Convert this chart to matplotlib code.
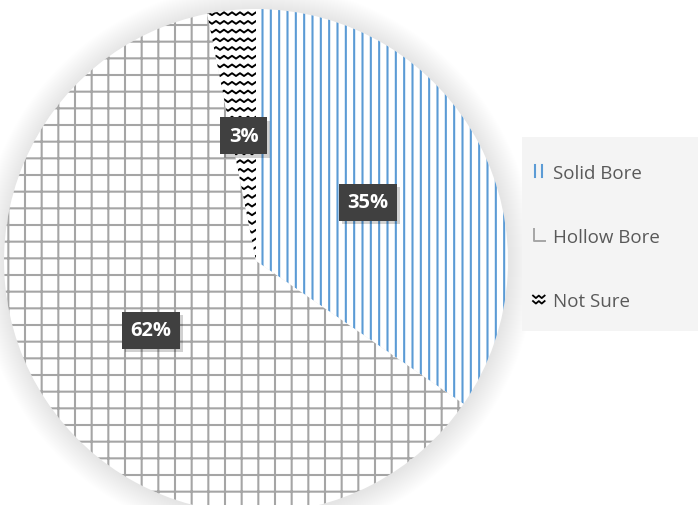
import matplotlib
matplotlib.use('Agg')
import matplotlib.pyplot as plt
import matplotlib.patheffects as pe
import numpy as np
from matplotlib.patches import Circle, Patch, Rectangle
from matplotlib.collections import LineCollection
from matplotlib.legend_handler import HandlerBase
from matplotlib.lines import Line2D

# ---- data ----
categories = ['Solid Bore', 'Hollow Bore', 'Not Sure']
values = [34.6, 62.3, 3.1]
colors_edge = ['#5B9BD5', '#A5A5A5', '#000000']
hatches = ['||', '+', None]

plt.rcParams['hatch.linewidth'] = 1.5

W, H = 698, 506
fig = plt.figure(figsize=(W / 100, H / 100), dpi=100)
ax = fig.add_axes([0, 0, 1, 1])

cx, cy, R = 256, 244, 252

# soft shadow around the pie
for k in range(26, 0, -1):
    ax.add_patch(Circle((cx + 1, cy - 1), R + k, color='black', alpha=0.0055,
                        lw=0, zorder=0))

wedges, texts, autotexts = ax.pie(
    values, startangle=90, counterclock=False, center=(cx, cy), radius=R,
    autopct='%.0f%%', pctdistance=0.5, wedgeprops=dict(linewidth=0),
    textprops=dict(color='white', fontsize=14.5, fontweight='bold',
                   family='Open Sans'))

for w, ec, h in zip(wedges, colors_edge, hatches):
    w.set_facecolor('white')
    w.set_edgecolor(ec)
    w.set_linewidth(0)
    if h:
        w.set_hatch(h)
    w.set_zorder(1)

# zigzag pattern for "Not Sure"
segs = []
step_y = 8.7
period = 8.0
amp = 1.4
for yy in np.arange(cy - 5, cy + R + 20, step_y):
    xs = np.arange(cx - 80, cx + 20, period / 2)
    ys = yy + np.where((np.arange(len(xs)) % 2) == 0, amp, -amp)
    segs.append(np.column_stack([xs, ys]))
lc = LineCollection(segs, colors='black', linewidths=1.4, zorder=2)
ax.add_collection(lc)
lc.set_clip_path(wedges[2])

# label boxes with shadow
for t in autotexts:
    t.set_zorder(5)
    t.set_bbox(dict(boxstyle='square,pad=0.42', fc='#404040', ec='none'))
    t.get_bbox_patch().set_path_effects(
        [pe.SimplePatchShadow(offset=(2.5, -2.5), shadow_rgbFace='black', alpha=0.18),
         pe.Normal()])

ax.set_xlim(0, W)
ax.set_ylim(0, H)
ax.set_aspect('equal')
ax.axis('off')

# legend background panel
ax.add_patch(Rectangle((522, H - 332), W - 522, 332 - 138, fc='#F4F4F4',
                       ec='none', zorder=0))


class ZigzagHandler(HandlerBase):
    def create_artists(self, legend, orig_handle, xdescent, ydescent, width,
                       height, fontsize, trans):
        arts = []
        for fy in (0.25, 0.7):
            xs = np.linspace(0, width, 5) - xdescent
            ys = (fy * height + np.array([1, -1, 1, -1, 1]) * 0.9) - ydescent
            ln = Line2D(xs, ys, color='black', lw=1.3)
            ln.set_transform(trans)
            arts.append(ln)
        return arts


class LHandler(HandlerBase):
    def create_artists(self, legend, orig_handle, xdescent, ydescent, width,
                       height, fontsize, trans):
        ln = Line2D([0.05 * width - xdescent, 0.05 * width - xdescent, width - xdescent],
                    [height - ydescent, -ydescent, -ydescent],
                    color='#A5A5A5', lw=1.4)
        ln.set_transform(trans)
        return [ln]


class BarsHandler(HandlerBase):
    def create_artists(self, legend, orig_handle, xdescent, ydescent, width,
                       height, fontsize, trans):
        arts = []
        for fx in (0.15, 0.75):
            ln = Line2D([fx * width - xdescent] * 2, [-ydescent, height - ydescent],
                        color='#5B9BD5', lw=1.5)
            ln.set_transform(trans)
            arts.append(ln)
        return arts


handles = [Patch(facecolor='white', edgecolor=colors_edge[0], lw=0),
           Patch(facecolor='white', edgecolor=colors_edge[1], lw=0),
           Patch(facecolor='white', edgecolor='black', lw=0)]
leg = ax.legend(handles, categories, loc='upper left',
                bbox_to_anchor=(533 / W, 1 - 165 / H), bbox_transform=fig.transFigure,
                borderaxespad=0, borderpad=0, frameon=False,
                handlelength=0.62, handleheight=0.62, handletextpad=0.45,
                labelspacing=2.45,
                prop=dict(family='Open Sans', size=13.5),
                handler_map={handles[0]: BarsHandler(), handles[1]: LHandler(),
                             handles[2]: ZigzagHandler()})
for txt in leg.get_texts():
    txt.set_color('#595959')

fig.savefig('out.png', dpi=100)
